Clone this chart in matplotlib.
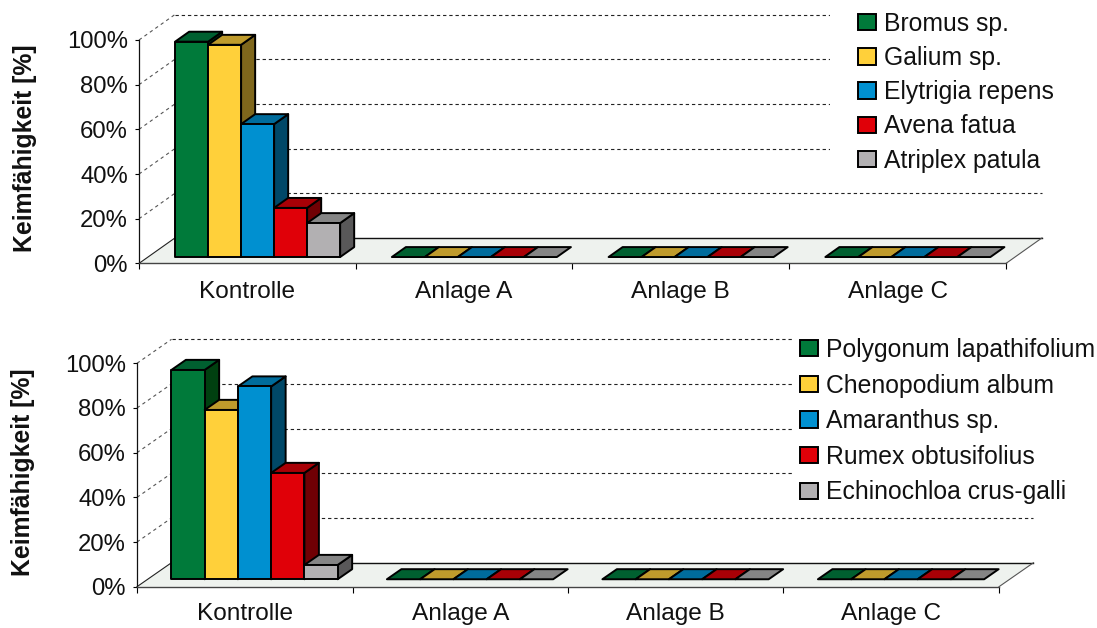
import matplotlib
matplotlib.use("Agg")
import matplotlib.pyplot as plt
from matplotlib.patches import Polygon, Rectangle, Patch

plt.rcParams['font.family'] = ['Liberation Sans', 'DejaVu Sans']

W, H = 1097, 628

categories = ["Kontrolle", "Anlage A", "Anlage B", "Anlage C"]
y_ticks = [0, 20, 40, 60, 80, 100]
y_label = "Keimfähigkeit [%]"

species_top = ["Bromus sp.", "Galium sp.", "Elytrigia repens", "Avena fatua", "Atriplex patula"]
values_top = {
    "Bromus sp.":       [96.4, 0, 0, 0],
    "Galium sp.":       [95.0, 0, 0, 0],
    "Elytrigia repens": [59.5, 0, 0, 0],
    "Avena fatua":      [22.0, 0, 0, 0],
    "Atriplex patula":  [15.2, 0, 0, 0],
}
species_bottom = ["Polygonum lapathifolium", "Chenopodium album", "Amaranthus sp.",
                  "Rumex obtusifolius", "Echinochloa crus-galli"]
values_bottom = {
    "Polygonum lapathifolium": [93.7, 0, 0, 0],
    "Chenopodium album":       [75.8, 0, 0, 0],
    "Amaranthus sp.":          [86.3, 0, 0, 0],
    "Rumex obtusifolius":      [47.6, 0, 0, 0],
    "Echinochloa crus-galli":  [6.4, 0, 0, 0],
}

front_colors = ["#007A3A", "#FFD03A", "#0090D0", "#E00008", "#B2B0B2"]
top_colors = ["#006030", "#BF9B2C", "#006C9C", "#A80006", "#858585"]
side_colors = ["#004010", "#7F671C", "#004868", "#700004", "#595859"]

EDGE = 1.4


def panel(x0, x1, y0, y100, dx, dy, d0, d1, gap, bw, species, values,
          mask, leg_x, leg_y, leg_space, ylab_x, ylab_y, xpad):
    ax = fig.add_axes([x0 / W, 1 - y0 / H, (x1 - x0) / W, (y0 - y100) / H])
    ax.set_xlim(0, len(categories))
    ax.set_ylim(0, 100)
    ax.patch.set_visible(False)
    sx = dx / ((x1 - x0) / len(categories))
    sy = dy / ((y0 - y100) / 100)

    def P(x, y, d):
        return (x + d * sx, y + d * sy)

    n = len(categories)
    # floor
    ax.add_patch(Polygon([P(0, 0, 0), P(n, 0, 0), P(n, 0, 1), P(0, 0, 1)], closed=True,
                         fc="#EEF2EE", ec="none", clip_on=False, zorder=1))
    ax.plot(*zip(P(0, 0, 1), P(n, 0, 1)), color="#111111", lw=1.0, clip_on=False, zorder=1.5)
    ax.plot(*zip(P(0, 0, 0), P(0, 0, 1)), color="#222222", lw=0.8, clip_on=False, zorder=1.5)
    ax.plot(*zip(P(n, 0, 0), P(n, 0, 1)), color="#555555", lw=0.8, clip_on=False, zorder=1.5)
    # gridlines on the walls
    for v in y_ticks[1:]:
        ax.plot(*zip(P(0, v, 1), P(n, v, 1)), color="#222222", lw=0.8, dashes=(3, 2.6),
                clip_on=False, zorder=1)
        ax.plot(*zip(P(0, v, 0), P(0, v, 1)), color="#555555", lw=0.8, dashes=(3, 3),
                clip_on=False, zorder=1)
    # white legend background hides the gridlines behind it
    ax.add_patch(Rectangle((mask[0] / W, 1 - mask[3] / H), (mask[2] - mask[0]) / W,
                           (mask[3] - mask[1]) / H, transform=fig.transFigure,
                           fc="white", ec="none", zorder=1.8, clip_on=False))
    # bars
    z = 2.0
    for c in range(n):
        for s, name in enumerate(species):
            v = values[name][c]
            l = c + gap + s * bw
            r = l + bw
            if v > 0:
                ax.add_patch(Polygon([P(r, 0, d0), P(r, 0, d1), P(r, v, d1), P(r, v, d0)],
                                     fc=side_colors[s], ec="black", lw=EDGE, zorder=z,
                                     clip_on=False, joinstyle="round"))
            ax.add_patch(Polygon([P(l, v, d0), P(r, v, d0), P(r, v, d1), P(l, v, d1)],
                                 fc=top_colors[s], ec="black", lw=EDGE, zorder=z + .01,
                                 clip_on=False, joinstyle="round"))
            if v > 0:
                ax.add_patch(Polygon([P(l, 0, d0), P(r, 0, d0), P(r, v, d0), P(l, v, d0)],
                                     fc=front_colors[s], ec="black", lw=EDGE, zorder=z + .02,
                                     clip_on=False, joinstyle="round"))
            z += .1
    # axes
    for side in ("top", "right"):
        ax.spines[side].set_visible(False)
    ax.spines["left"].set_color("#111111")
    ax.spines["left"].set_linewidth(0.9)
    ax.spines["bottom"].set_color("#444444")
    ax.spines["bottom"].set_linewidth(1.0)
    ax.set_yticks(y_ticks)
    ax.set_yticklabels([f"{v}%" for v in y_ticks], va="center_baseline")
    ax.tick_params(axis="y", length=3, width=0.8, pad=5, labelsize=17.2, labelcolor="#111111")
    ax.set_xticks(range(n + 1))
    ax.set_xticklabels([])
    ax.set_xticks([i + .5 for i in range(n)], minor=True)
    ax.set_xticklabels(categories, minor=True)
    ax.tick_params(axis="x", which="major", length=4, width=0.8)
    ax.tick_params(axis="x", which="minor", length=0, pad=xpad, labelsize=17.6, labelcolor="#111111")
    ax.set_ylabel(y_label, fontsize=17.8, fontweight="bold", color="#111111", va="center")
    ax.yaxis.set_label_coords(ylab_x / W, 1 - ylab_y / H, transform=fig.transFigure)
    # legend
    handles = [Patch(fc=front_colors[i], ec="black", lw=1.4) for i in range(len(species))]
    leg = ax.legend(handles, species, loc="upper left", frameon=False,
                    bbox_to_anchor=(leg_x / W, 1 - leg_y / H), bbox_transform=fig.transFigure,
                    prop={"size": 17.8}, borderpad=0, borderaxespad=0, handlelength=0.72,
                    handleheight=0.64, handletextpad=0.32, labelspacing=leg_space)
    leg.set_zorder(50)
    for t in leg.get_texts():
        t.set_color("#111111")
    return ax


fig = plt.figure(figsize=(W / 100, H / 100), dpi=100)
panel(139, 1006, 263.4, 40, 36, 25.5, 0.25, 0.64, 0.125, 0.1523, species_top, values_top,
      (830, 0, W, 175), 858, 12, 0.41, 25, 148, 13)
panel(137, 999, 586.7, 363.3, 34.5, 24, 0.31, 0.73, 0.11, 0.1543, species_bottom, values_bottom,
      (792, 325, W, 505), 800, 338, 0.47, 23, 472, 12)
fig.savefig("out.png", dpi=100)
